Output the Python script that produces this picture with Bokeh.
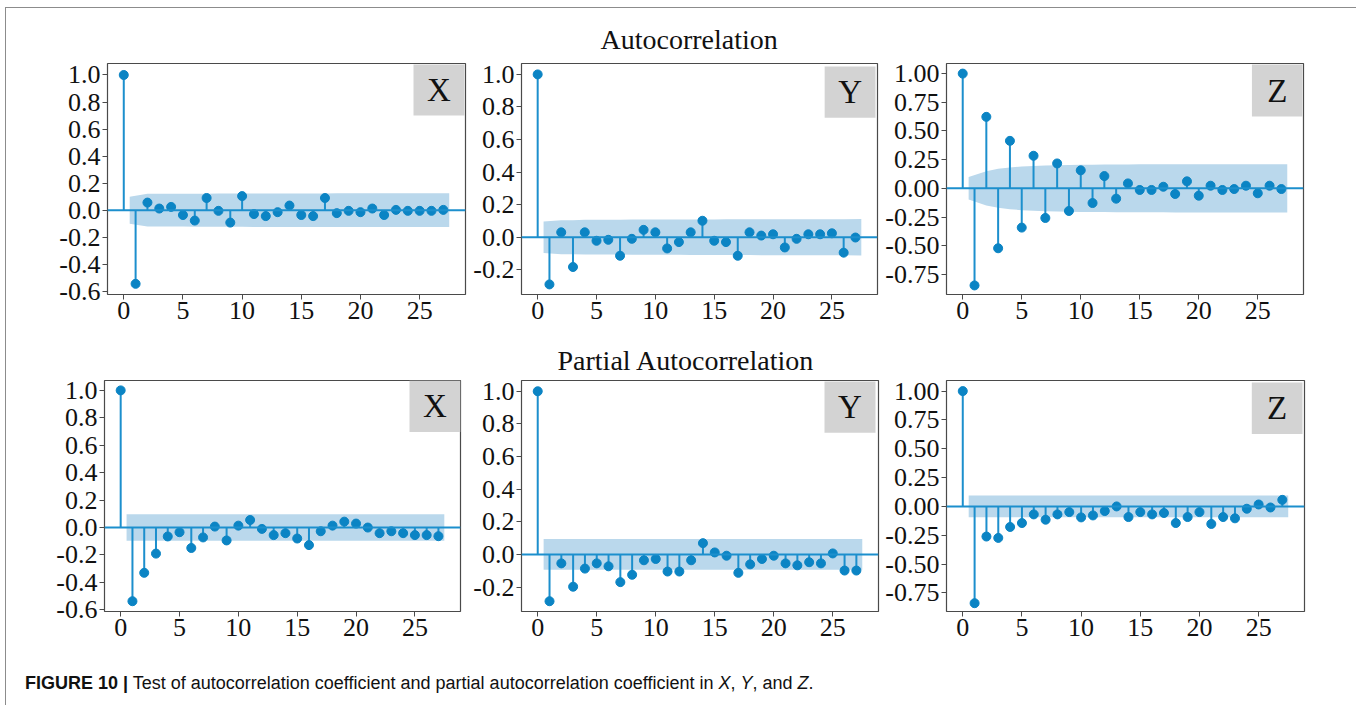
from bokeh.plotting import figure
from bokeh.layouts import row, column
from bokeh.models import FixedTicker, PrintfTickFormatter, Span, BoxAnnotation, Label, Div
from bokeh.embed import file_html
from bokeh.resources import INLINE

# ---------------- data ----------------
lags = list(range(28))

acf_x = [1.0, -0.545, 0.056, 0.012, 0.024, -0.036, -0.077, 0.090, -0.005, -0.092,
         0.104, -0.029, -0.044, -0.015, 0.034, -0.036, -0.044, 0.090, -0.022, -0.005,
         -0.015, 0.012, -0.036, 0.002, -0.005, -0.005, -0.005, 0.002]
acf_y = [1.0, -0.290, 0.030, -0.183, 0.030, -0.022, -0.016, -0.114, -0.010, 0.045,
         0.030, -0.069, -0.030, 0.030, 0.101, -0.022, -0.030, -0.114, 0.030, 0.010,
         0.018, -0.063, -0.010, 0.018, 0.018, 0.024, -0.095, -0.002]
acf_z = [1.0, -0.846, 0.623, -0.522, 0.414, -0.342, 0.284, -0.258, 0.217, -0.197,
         0.157, -0.128, 0.107, -0.090, 0.043, -0.014, -0.014, 0.014, -0.049, 0.061,
         -0.064, 0.023, -0.014, -0.006, 0.023, -0.043, 0.023, -0.006]
pacf_x = [1.0, -0.537, -0.330, -0.190, -0.065, -0.034, -0.149, -0.072, 0.007, -0.094,
          0.014, 0.055, -0.010, -0.055, -0.041, -0.080, -0.128, -0.027, 0.014, 0.043,
          0.029, 0.000, -0.041, -0.027, -0.041, -0.055, -0.055, -0.063]
pacf_y = [1.0, -0.287, -0.055, -0.198, -0.087, -0.055, -0.073, -0.170, -0.125, -0.036,
          -0.028, -0.105, -0.105, -0.036, 0.069, 0.012, -0.008, -0.113, -0.061, -0.028,
          -0.008, -0.055, -0.067, -0.048, -0.055, 0.006, -0.099, -0.099]
pacf_z = [1.0, -0.839, -0.261, -0.273, -0.178, -0.144, -0.069, -0.115, -0.069, -0.049,
          -0.095, -0.078, -0.040, 0.000, -0.092, -0.049, -0.069, -0.057, -0.144, -0.092,
          -0.049, -0.152, -0.092, -0.103, -0.020, 0.017, -0.009, 0.057]

# confidence-band half widths for lags 1..27
band_acf_x = [0.100, 0.121, 0.121, 0.121, 0.121, 0.122, 0.122, 0.123, 0.123, 0.123,
              0.124, 0.124, 0.124, 0.124, 0.124, 0.124, 0.124, 0.125, 0.125, 0.125,
              0.125, 0.125, 0.125, 0.125, 0.125, 0.125, 0.125]
band_acf_y = [0.097, 0.104, 0.104, 0.107, 0.107, 0.107, 0.107, 0.108, 0.108, 0.108,
              0.108, 0.108, 0.109, 0.109, 0.109, 0.110, 0.110, 0.110, 0.111, 0.111,
              0.111, 0.111, 0.111, 0.111, 0.111, 0.111, 0.112]
band_acf_z = [0.098, 0.150, 0.170, 0.182, 0.190, 0.195, 0.199, 0.202, 0.204, 0.205,
              0.206, 0.207, 0.208, 0.208, 0.209, 0.209, 0.209, 0.210, 0.210, 0.210,
              0.210, 0.211, 0.211, 0.211, 0.211, 0.211, 0.211]
band_pacf_x = [0.097] * 27
band_pacf_y = [0.094] * 27
band_pacf_z = [0.094] * 27

ticks_10 = [-0.6, -0.4, -0.2, 0.0, 0.2, 0.4, 0.6, 0.8, 1.0]
ticks_y = [-0.2, 0.0, 0.2, 0.4, 0.6, 0.8, 1.0]
ticks_25 = [-0.75, -0.5, -0.25, 0.0, 0.25, 0.5, 0.75, 1.0]
xticks = [0, 5, 10, 15, 20, 25]

LINE = "#1c8fcd"
MARK = "#0b84c4"
BAND = "#bad8ec"
SERIF = "Liberation Serif"

X0, X1 = -1.375, 28.875


def panel(vals, band, letter, yr, yticks, fmt, fw, fh, mbl, mbr, mbt, mbb,
          title=None, t_off=0, t_stand=10, inset_t=1, inset_r=1):
    p = figure(width=mbl + fw + mbr, height=mbt + fh + mbb,
               x_range=(X0, X1), y_range=yr,
               output_backend="svg", toolbar_location=None,
               min_border_left=mbl, min_border_right=mbr,
               min_border_top=mbt, min_border_bottom=mbb)
    p.background_fill_color = "white"
    p.border_fill_color = "white"
    p.outline_line_color = "#4a4a4a"
    p.outline_line_width = 1.2
    p.xgrid.grid_line_color = None
    p.ygrid.grid_line_color = None
    for ax in (p.xaxis, p.yaxis):
        ax.axis_line_color = None
        ax.major_tick_line_color = "#4a4a4a"
        ax.major_tick_out = 5
        ax.major_tick_in = 0
        ax.minor_tick_line_color = None
        ax.major_label_text_font = SERIF
        ax.major_label_text_font_size = "26px"
        ax.major_label_text_color = "#111111"
        ax.major_label_standoff = 2
    p.xaxis.ticker = FixedTicker(ticks=xticks)
    p.yaxis.ticker = FixedTicker(ticks=yticks)
    p.yaxis.formatter = PrintfTickFormatter(format=fmt)

    # confidence band
    bx = [float(l) for l in lags[1:]]
    bx[0] -= 0.5
    bx[-1] += 0.5
    p.varea(x=bx, y1=[-b for b in band], y2=band, fill_color=BAND, fill_alpha=1.0)
    p.add_layout(Span(location=0, dimension="width", line_color=LINE, line_width=2))
    p.segment(x0=lags, y0=[0] * len(lags), x1=lags, y1=vals, line_color=LINE, line_width=2)
    p.scatter(x=lags, y=vals, size=9, fill_color=MARK, line_color=MARK)

    # letter box at top-right
    xppu = fw / (X1 - X0)
    yppu = fh / (yr[1] - yr[0])
    bw, bh = 51, 52
    right = X1 - inset_r / xppu
    left = right - bw / xppu
    top = yr[1] - inset_t / yppu
    bottom = top - bh / yppu
    p.add_layout(BoxAnnotation(left=left, right=right, top=top, bottom=bottom,
                               fill_color="#d3d3d3", fill_alpha=1.0, line_color=None))
    p.add_layout(Label(x=(left + right) / 2, y=(top + bottom) / 2, text=letter,
                       text_align="center", text_baseline="middle",
                       text_font=SERIF, text_font_size="33px", text_color="#111111"))
    if title:
        p.title.text = title
        p.title.align = "left"
        p.title.text_font = SERIF
        p.title.text_font_size = "28px"
        p.title.text_font_style = "normal"
        p.title.text_color = "#111111"
        p.title.offset = t_off
        p.title.standoff = t_stand
    return p


p1 = panel(acf_x, band_acf_x, "X", (-0.624, 1.085), ticks_10, "%.1f", 358, 235, 101, 5, 51, 40)
p2 = panel(acf_y, band_acf_y, "Y", (-0.352, 1.067), ticks_y, "%.1f", 357, 234, 50, 5, 52, 40,
           title="Autocorrelation", t_off=79, t_stand=18, inset_t=3, inset_r=2)
p3 = panel(acf_z, band_acf_z, "Z", (-0.925, 1.088), ticks_25, "%.2f", 360, 231, 61, 46, 55, 40)
p4 = panel(pacf_x, band_pacf_x, "X", (-0.612, 1.072), ticks_10, "%.1f", 356, 233, 98, 10, 44, 40,
           inset_t=0, inset_r=0)
p5 = panel(pacf_y, band_pacf_y, "Y", (-0.350, 1.066), ticks_y, "%.1f", 357, 234, 51, 4, 43, 40,
           title="Partial Autocorrelation", t_off=36, t_stand=9, inset_t=1, inset_r=3)
p6 = panel(pacf_z, band_pacf_z, "Z", (-0.911, 1.092), ticks_25, "%.2f", 360, 233, 62, 45, 46, 38,
           inset_t=2, inset_r=2)

caption = Div(
    text='<div style="margin: 15px 0 0 14px; font-family: \'Liberation Sans\', Arial, sans-serif; '
         'font-size: 18px; color: #111; white-space: nowrap;"><b>FIGURE 10 |</b> Test of autocorrelation '
         'coefficient and partial autocorrelation coefficient in <i>X</i>, <i>Y</i>, and <i>Z</i>.</div>',
    width=1343, height=46)

layout = column(row(p1, p2, p3, spacing=0), row(p4, p5, p6, spacing=0), caption, spacing=0,
                styles={"border": "1px solid #8c8c8c", "margin-left": "5px", "margin-top": "7px"})

open("out.html", "w").write(file_html(layout, INLINE))
